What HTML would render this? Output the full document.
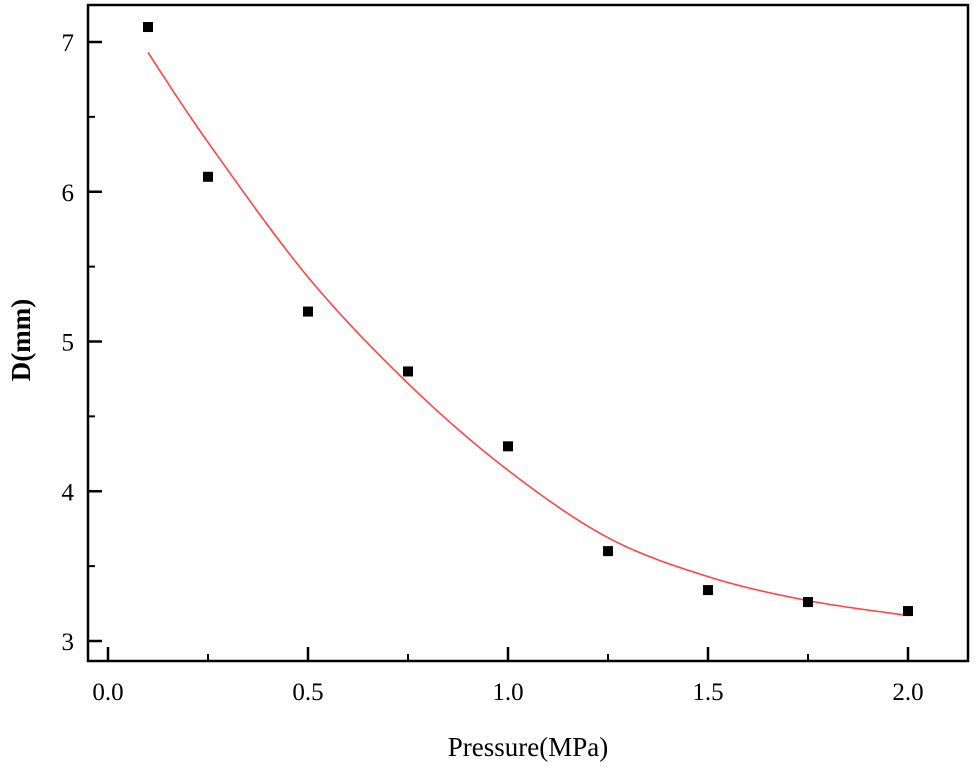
<!DOCTYPE html>
<html><head><meta charset="utf-8"><style>
html,body{margin:0;padding:0;background:#fff;}
svg{display:block;font-family:"Liberation Serif",serif;}
</style></head><body>
<svg id="chart" width="975" height="773" viewBox="0 0 975 773" xmlns="http://www.w3.org/2000/svg">
<rect x="88" y="5" width="880" height="656" fill="none" stroke="#000" stroke-width="2.5"/>
<g id="axes"></g>
<g id="fit"></g>
<g id="points"></g>
<text x="528" y="756" font-size="27" text-anchor="middle">Pressure(MPa)</text>
<text transform="translate(30,340) rotate(-90)" font-size="27" font-weight="bold" text-anchor="middle">D(mm)</text>
</svg>
<script>
const pressures=[0.1,0.25,0.5,0.75,1.0,1.25,1.5,1.75,2.0];
const diameters=[7.1,6.1,5.2,4.8,4.3,3.6,3.34,3.26,3.2];
const fitPressures=[0.1,0.25,0.5,0.75,1.0,1.25,1.5,1.75,2.0];
const fitDiameters=[6.93,6.33,5.43,4.72,4.14,3.69,3.43,3.27,3.17];
const xTicks=[0.0,0.5,1.0,1.5,2.0];
const xTickLabels=["0.0","0.5","1.0","1.5","2.0"];
const yTicks=[3,4,5,6,7];
const yTickLabels=["3","4","5","6","7"];
const NS="http://www.w3.org/2000/svg";
const sx=v=>108+v*400;
const sy=v=>641-(v-3)*149.75;
function mk(tag,attrs,parent){const e=document.createElementNS(NS,tag);for(const k in attrs)e.setAttribute(k,attrs[k]);parent.appendChild(e);return e;}
const axes=document.getElementById('axes');
xTicks.forEach((t,i)=>{
  const l=mk('line',{x1:sx(t),x2:sx(t),y1:661,y2:647,stroke:'#000','stroke-width':2.5},axes);
  
  
  const tx=mk('text',{x:sx(t),y:700,'font-size':25,'text-anchor':'middle'},axes);
  tx.textContent=xTickLabels[i];
  
  
  if(i<xTicks.length-1){
    const m=mk('line',{x1:sx(t+0.25),x2:sx(t+0.25),y1:661,y2:654,stroke:'#000','stroke-width':2},axes);
    
    
  }
});
yTicks.forEach((t,i)=>{
  const l=mk('line',{x1:88,x2:102,y1:sy(t),y2:sy(t),stroke:'#000','stroke-width':2.5},axes);
  
  
  const tx=mk('text',{x:74,y:sy(t)+9,'font-size':25,'text-anchor':'end'},axes);
  tx.textContent=yTickLabels[i];
  
  
  if(i<yTicks.length-1){
    const m=mk('line',{x1:88,x2:95,y1:sy(t+0.5),y2:sy(t+0.5),stroke:'#000','stroke-width':2},axes);
    
    
  }
});
const P=fitPressures.map((x,i)=>[sx(x),sy(fitDiameters[i])]);
let d='M'+P[0][0].toFixed(1)+','+P[0][1].toFixed(1);
for(let i=0;i<P.length-1;i++){
  const p0=P[Math.max(0,i-1)],p1=P[i],p2=P[i+1],p3=P[Math.min(P.length-1,i+2)];
  const c1=[p1[0]+(p2[0]-p0[0])/6,p1[1]+(p2[1]-p0[1])/6];
  const c2=[p2[0]-(p3[0]-p1[0])/6,p2[1]-(p3[1]-p1[1])/6];
  d+='C'+c1[0].toFixed(1)+','+c1[1].toFixed(1)+' '+c2[0].toFixed(1)+','+c2[1].toFixed(1)+' '+p2[0].toFixed(1)+','+p2[1].toFixed(1);
}
const fit=mk('path',{d:d,fill:'none',stroke:'#f44','stroke-width':1.6},document.getElementById('fit'));


const pts=document.getElementById('points');
pressures.forEach((p,i)=>{
  const r=mk('rect',{x:sx(p)-5,y:sy(diameters[i])-5,width:10,height:10,fill:'#000'},pts);
  
  
});
</script>
</body></html>
